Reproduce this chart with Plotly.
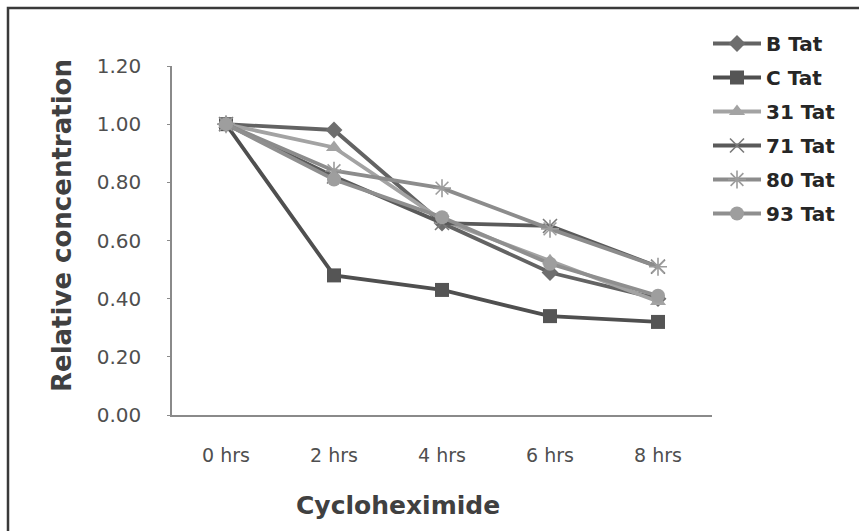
import plotly.graph_objects as go

categories = ["0 hrs", "2 hrs", "4 hrs", "6 hrs", "8 hrs"]
b_tat = [1.00, 0.98, 0.66, 0.49, 0.40]
c_tat = [1.00, 0.48, 0.43, 0.34, 0.32]
t31_tat = [1.00, 0.92, 0.67, 0.53, 0.39]
t71_tat = [1.00, 0.82, 0.66, 0.65, 0.51]
t80_tat = [1.00, 0.84, 0.78, 0.64, 0.51]
t93_tat = [1.00, 0.81, 0.68, 0.52, 0.41]

series = [
    ("B Tat", b_tat, "#636363", "#6e6e6e", "diamond", 13),
    ("C Tat", c_tat, "#4f4f4f", "#555555", "square", 14),
    ("31 Tat", t31_tat, "#a3a3a3", "#a3a3a3", "triangle-up", 14),
    ("71 Tat", t71_tat, "#5a5a5a", "#7a7a7a", "x-thin-open", 14),
    ("80 Tat", t80_tat, "#8c8c8c", "#9c9c9c", "asterisk-open", 15),
    ("93 Tat", t93_tat, "#8f8f8f", "#9e9e9e", "circle", 14),
]

fig = go.Figure()
for i, (name, vals, lc, mc, sym, sz) in enumerate(series):
    fig.add_trace(go.Scatter(
        x=categories, y=vals, name=name, mode="lines+markers",
        legendgroup=f"g{i}",
        line=dict(color=lc, width=3.8),
        marker=dict(symbol=sym, size=sz, color=mc,
                    line=dict(color=mc, width=1.6 if "open" in sym else 0)),
    ))

L, R, T, B = 172, 712, 66, 415
W, H = 859, 531

def px(p):
    return (p - L) / (R - L)

def py(q):
    return (B - q) / (B - T)

fig.update_layout(
    width=W, height=H,
    margin=dict(l=L, r=W - R, t=T, b=H - B),
    paper_bgcolor="white", plot_bgcolor="white",
    font=dict(family="DejaVu Sans", color="#595959"),
    showlegend=True,
    legend=dict(
        x=px(708), y=py(24), xanchor="left", yanchor="top",
        font=dict(family="DejaVu Sans", size=20, color="#262626", weight="bold"),
        tracegroupgap=5, itemwidth=48, bgcolor="rgba(0,0,0,0)",
    ),
    xaxis=dict(
        type="category", range=[-0.5, 4.5], showgrid=False, zeroline=False,
        showline=True, linecolor="#8a8a8a", linewidth=1.5,
        ticks="", tickfont=dict(size=19, color="#4f4f4f"),
        ticklabelstandoff=22,
    ),
    yaxis=dict(
        range=[0, 1.2], dtick=0.2, tickformat=".2f", showgrid=False,
        zeroline=False, showline=True, linecolor="#8a8a8a", linewidth=1.5,
        ticks="outside", ticklen=3, tickcolor="#8a8a8a",
        tickfont=dict(size=20, color="#4f4f4f"), ticklabelstandoff=22,
    ),
    annotations=[
        dict(text="<b>Relative concentration</b>", xref="paper", yref="paper",
             x=px(62), y=py(226), xanchor="center", yanchor="middle",
             textangle=-90, showarrow=False,
             font=dict(size=26, color="#404040", family="DejaVu Sans")),
        dict(text="<b>Cycloheximide</b>", xref="paper", yref="paper",
             x=px(398), y=py(505), xanchor="center", yanchor="middle",
             showarrow=False,
             font=dict(size=25, color="#404040", family="DejaVu Sans")),
    ],
    shapes=[
        dict(type="rect", xref="paper", yref="paper",
             x0=px(8), x1=px(870), y0=py(8), y1=py(545),
             line=dict(color="#3a3a3a", width=2.5)),
    ],
)

fig.write_html("out.html")
